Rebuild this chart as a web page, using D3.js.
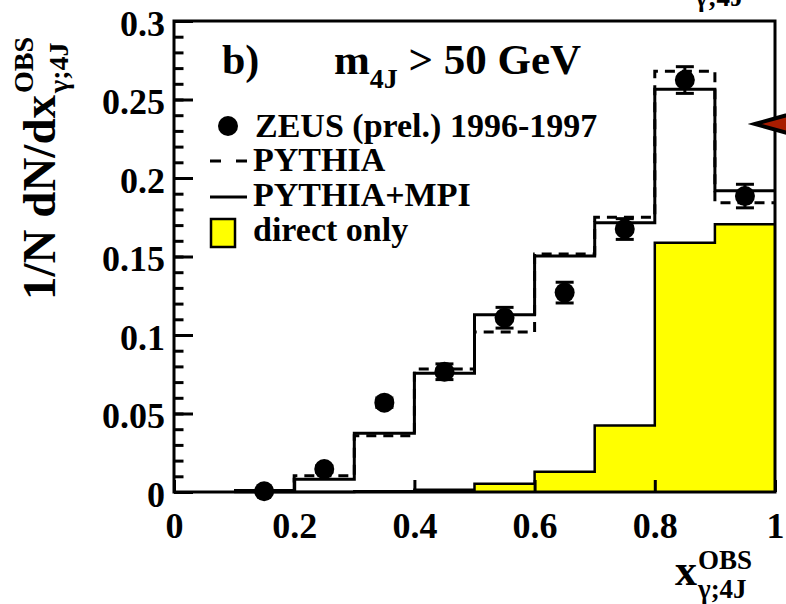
<!DOCTYPE html>
<html>
<head>
<meta charset="utf-8">
<script src="https://cdn.jsdelivr.net/npm/d3@7"></script>
<style>
  body { margin: 0; background: #fff; }
  svg { display: block; }
  text { font-family: "Liberation Serif", "Times New Roman", serif; font-weight: bold; fill: #000; }
</style>
</head>
<body>
<svg id="chart" width="786" height="604"></svg>
<script>
// bins of x_gamma;4J
const binEdges = [0.1, 0.2, 0.3, 0.4, 0.5, 0.6, 0.7, 0.8, 0.9, 1.0];
const binCenters = [0.15, 0.25, 0.35, 0.45, 0.55, 0.65, 0.75, 0.85, 0.95];
const zeus = [0.0005, 0.0146, 0.0569, 0.0766, 0.111, 0.127, 0.1675, 0.2624, 0.1885];
const zeusErr = [0.001, 0.002, 0.003, 0.005, 0.0066, 0.0066, 0.0066, 0.0085, 0.0075];
const pythia = [0.001, 0.0104, 0.0359, 0.0783, 0.1019, 0.1516, 0.175, 0.268, 0.1843];
const pythiaMpi = [0.001, 0.0081, 0.0374, 0.0756, 0.1129, 0.1503, 0.1715, 0.2565, 0.1919];
const direct = [0, 0, 0.0005, 0.0015, 0.0053, 0.0129, 0.0423, 0.1588, 0.1705];
const yTicks = [0, 0.05, 0.1, 0.15, 0.2, 0.25, 0.3];
const xTicks = [0, 0.2, 0.4, 0.6, 0.8, 1];
const legendLabels = ["ZEUS (prel.) 1996-1997", "PYTHIA", "PYTHIA+MPI", "direct only"];

const svg = d3.select("svg#chart");
const margins = {top: 21, right: 11, bottom: 112, left: 174};
const width = +svg.attr("width"), height = +svg.attr("height");
const chartW = width - margins.left - margins.right;
const chartH = height - margins.top - margins.bottom;

const x = d3.scaleLinear().domain([0, 1]).range([0, chartW]);
const y = d3.scaleLinear().domain([0, 0.3]).range([chartH, 0]);
const fmt = d => d === 0 ? "0" : String(+d.toFixed(2));

const chart = svg.append("g").attr("transform", `translate(${margins.left},${margins.top})`);

// histograms as steps
const steps = vals => binEdges.slice(0, -1).map((e, i) => [e, vals[i]]).concat([[binEdges[binEdges.length - 1], vals[vals.length - 1]]]);
const line = d3.line().x(d => x(d[0])).y(d => y(d[1])).curve(d3.curveStepAfter);
const area = d3.area().x(d => x(d[0])).y0(y(0)).y1(d => y(d[1])).curve(d3.curveStepAfter);

chart.append("path").datum(steps(direct)).attr("d", area).attr("fill", "#ffff00");
chart.append("path").datum(steps(direct)).attr("d", line).attr("fill", "none").attr("stroke", "#000").attr("stroke-width", 2.5);
chart.append("path").datum(steps(pythiaMpi)).attr("d", line).attr("fill", "none").attr("stroke", "#000").attr("stroke-width", 3);
chart.append("path").datum(steps(pythia)).attr("d", line).attr("fill", "none").attr("stroke", "#000").attr("stroke-width", 3).attr("stroke-dasharray", "10,7");

// axes (ticks inside the frame)
const yMinor = chart.append("g").call(d3.axisLeft(y).ticks(30).tickSize(-9.5).tickFormat(""));
const yAxis = chart.append("g").call(d3.axisLeft(y).tickValues(yTicks).tickSize(-19).tickPadding(9).tickFormat(fmt));
const xAxis = chart.append("g").attr("transform", `translate(0,${chartH})`)
  .call(d3.axisBottom(x).tickValues(xTicks).tickSize(-12).tickPadding(20).tickFormat(fmt));
[yMinor, yAxis, xAxis].forEach(g => {
  g.select(".domain").remove();
  g.selectAll(".tick line").attr("stroke", "#000").attr("stroke-width", 3);
  g.selectAll(".tick text").style("font-size", "36px").attr("fill", "#000");
});
yAxis.selectAll(".tick text").attr("dy", "0.39em");

// frame
chart.append("rect").attr("width", chartW).attr("height", chartH)
  .attr("fill", "none").attr("stroke", "#000").attr("stroke-width", 3);

// ZEUS points
const pts = chart.selectAll("g.pt").data(binCenters.map((c, i) => ({c, v: zeus[i], e: zeusErr[i]})))
  .enter().append("g").attr("class", "pt");
pts.append("line").attr("x1", d => x(d.c)).attr("x2", d => x(d.c))
  .attr("y1", d => y(d.v + d.e)).attr("y2", d => y(d.v - d.e)).attr("stroke", "#000").attr("stroke-width", 3);
[1, -1].forEach(s => {
  pts.append("line").attr("x1", d => x(d.c) - 9).attr("x2", d => x(d.c) + 9)
    .attr("y1", d => y(d.v + s * d.e)).attr("y2", d => y(d.v + s * d.e)).attr("stroke", "#000").attr("stroke-width", 3);
});
pts.append("circle").attr("cx", d => x(d.c)).attr("cy", d => y(d.v)).attr("r", 10).attr("fill", "#000");

// title
svg.append("text").attr("x", 222).attr("y", 74).style("font-size", "42px").text("b)");
const title = svg.append("text").attr("x", 334).attr("y", 74).style("font-size", "43px");
title.append("tspan").text("m");
title.append("tspan").attr("dy", 14).style("font-size", "28px").text("4J");
title.append("tspan").attr("dy", -14).text(" > 50 GeV");

// legend
const legend = svg.append("g");
const rowY = [137, 171, 206, 241];
legend.append("circle").attr("cx", 228).attr("cy", 126).attr("r", 10).attr("fill", "#000");
legend.append("line").attr("x1", 210).attr("x2", 247).attr("y1", 161).attr("y2", 161)
  .attr("stroke", "#000").attr("stroke-width", 3).attr("stroke-dasharray", "11,15");
legend.append("line").attr("x1", 210).attr("x2", 247).attr("y1", 197).attr("y2", 197)
  .attr("stroke", "#000").attr("stroke-width", 3);
legend.append("rect").attr("x", 211).attr("y", 219).attr("width", 24).attr("height", 28)
  .attr("fill", "#ffff00").attr("stroke", "#000").attr("stroke-width", 2.5);
legend.selectAll("text").data(legendLabels).enter().append("text")
  .attr("x", (d, i) => i === 0 ? 255 : 253).attr("y", (d, i) => rowY[i])
  .style("font-size", "34px").text(d => d);

// y axis title (rotated)
const yt = svg.append("g").attr("transform", "translate(55,300) rotate(-90)");
const ytMain = yt.append("text").attr("x", 0).attr("y", 0).style("font-size", "47px").text("1/N dN/dx");
const yl = ytMain.node().getComputedTextLength();
yt.append("text").attr("x", yl + 2).attr("y", -22).style("font-size", "28px").text("OBS");
yt.append("text").attr("x", yl + 2).attr("y", 13).style("font-size", "28px").text("γ;4J");

// x axis title
const xtMain = svg.append("text").attr("x", 675).attr("y", 585).style("font-size", "44px").text("x");
const xl = xtMain.node().getComputedTextLength();
svg.append("text").attr("x", 675 + xl + 1).attr("y", 569).style("font-size", "27px").text("OBS");
svg.append("text").attr("x", 675 + xl + 1).attr("y", 598).style("font-size", "27px").text("γ;4J");

// pieces of the neighbouring panel, cut by the edge
svg.append("text").attr("x", 695).attr("y", 6).style("font-size", "27px").text("γ;4J");
svg.append("polygon").attr("points", "755,124 805,110 805,138")
  .attr("fill", "#a81c00").attr("stroke", "#000").attr("stroke-width", 4).attr("stroke-linejoin", "miter");
</script>
</body>
</html>
